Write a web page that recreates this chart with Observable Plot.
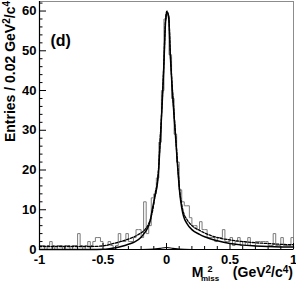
<!DOCTYPE html>
<html><head><meta charset="utf-8">
<script src="https://cdn.jsdelivr.net/npm/d3@7"></script>
<script src="https://cdn.jsdelivr.net/npm/@observablehq/plot@0.6"></script>
<style>html,body{margin:0;padding:0;background:#fff} svg{display:block}</style>
</head><body><div id="chart"></div>
<script>
// Histogram: 100 bins of 0.02 GeV^2/c^4 from -1 to 1
const binStart = -1;
const binWidth = 0.02;
const counts = [
  1,1,0,1,2,1,0,1,1,0,
  1,1,0,1,1,4,1,0,1,2,
  1,2,3,3,2,1,1,2,1,0,
  1,4,2,2,4,2,2,3,5,5,
  3,12,4,6,13,14,18,27,40,58,
  59,49,38,29,22,15,12,11,11,8,
  6,6,5,7,5,5,3,3,3,2,
  3,3,5,2,2,3,1,2,3,1,
  2,1,3,1,1,2,2,2,2,2,
  1,1,4,1,1,3,1,1,1,3
];
// Solid fit curve
const fitX = [-1,-0.6,-0.5,-0.45,-0.4,-0.35,-0.3,-0.25,-0.2,-0.17,-0.15,-0.13,-0.113,-0.09,-0.07,-0.06,-0.05,-0.035,-0.02,-0.008,0.003,0.018,0.03,0.05,0.07,0.085,0.105,0.12,0.135,0.16,0.2,0.26,0.3,0.4,0.5,0.6,0.7,0.8,0.9,1];
const fitY = [0,0,0.05,0.2,0.45,0.8,1.3,1.9,3.1,4.3,5.3,7,9.9,13.5,17,21,27,36,47,57,59.8,58,49,38,29,22,14,10.5,8.3,6.6,5.0,3.8,3.2,2.2,1.5,1.1,0.9,0.75,0.65,0.6];
// Dashed alternative curve
const altX = [-1,-0.6,-0.5,-0.43,-0.33,-0.22,-0.17,-0.14,-0.12,-0.1,-0.09,-0.07,-0.06,-0.05,-0.035,-0.02,-0.008,0.003,0.018,0.03,0.05,0.07,0.085,0.105,0.12,0.135,0.16,0.2,0.26,0.35,0.5,0.6,0.7,0.8,0.9,1];
const altY = [0.75,0.75,0.9,1.4,2.3,3.8,5.0,6.5,8.3,11.5,14,17.5,21.5,27.5,36.5,47.5,57.5,60,58.5,49.5,38.5,29.5,22.5,14.5,11.3,9.2,7.6,6.0,4.8,3.5,2.4,2.0,1.7,1.5,1.3,1.2];
// Small background component near zero
const bkgX = [-0.2,-0.1,-0.05,0,0.05,0.1,0.2];
const bkgY = [0,0.1,0.3,0.5,0.3,0.1,0];
// Axis ticks
const xMajor = [-1,-0.5,0,0.5,1];
const xTickLabels = ["-1","-0.5","0","0.5","1"];
const xMinor = [-0.9,-0.8,-0.7,-0.6,-0.4,-0.3,-0.2,-0.1,0.1,0.2,0.3,0.4,0.6,0.7,0.8,0.9];
const yMajor = [0,10,20,30,40,50,60];
const yMinor = [2,4,6,8,12,14,16,18,22,24,26,28,32,34,36,38,42,44,46,48,52,54,56,58,62];

const W = 296, H = 282, mL = 39, mR = 3, mT = 1, mB = 33;
const innerW = W - mL - mR, innerH = H - mT - mB;
const F = "Liberation Sans, Arial, Helvetica, sans-serif";

const histo = [{x: binStart, y: 0}]
  .concat(counts.map((c, i) => ({x: binStart + i * binWidth, y: c})))
  .concat([{x: binStart + counts.length * binWidth, y: counts[counts.length - 1]},
           {x: binStart + counts.length * binWidth, y: 0}]);
const fit = fitX.map((x, i) => ({x, y: fitY[i]}));
const alt = altX.map((x, i) => ({x, y: altY[i]}));
const bkg = bkgX.map((x, i) => ({x, y: bkgY[i]}));
const labelMap = new Map(xMajor.map((d, i) => [d, xTickLabels[i]]));

const svgEl = Plot.plot({
  width: W, height: H,
  marginLeft: mL, marginRight: mR, marginTop: mT, marginBottom: mB,
  style: {fontFamily: F, background: "white"},
  x: {domain: [-1, 1]},
  y: {domain: [0, 62.4]},
  marks: [
    Plot.frame({stroke: "#8c8c8c"}),
    Plot.line(histo, {x: "x", y: "y", curve: "step-after", stroke: "#7a7a7a", strokeWidth: 1}),
    Plot.line(bkg, {x: "x", y: "y", curve: "monotone-x", stroke: "black", strokeWidth: 1.2}),
    Plot.line(alt, {x: "x", y: "y", curve: "monotone-x", stroke: "black", strokeWidth: 1.3, strokeDasharray: "2.5,1.5"}),
    Plot.line(fit, {x: "x", y: "y", curve: "monotone-x", stroke: "black", strokeWidth: 1.5}),
    Plot.ruleY(yMajor, {stroke: "black", insetRight: innerW - 7}),
    Plot.ruleY(yMinor, {stroke: "black", insetRight: innerW - 3.5}),
    Plot.ruleX(xMajor, {stroke: "black", insetTop: innerH - 6}),
    Plot.ruleX(xMinor, {stroke: "black", insetTop: innerH - 3}),
    Plot.ruleX([-1], {stroke: "black", strokeWidth: 1.2}),
    Plot.ruleY([0], {stroke: "black"}),
    Plot.axisY(yMajor, {tickSize: 0, tickPadding: 3, label: null, fontSize: 13, fontWeight: "bold", fill: "black"}),
    Plot.axisX(xMajor, {tickSize: 0, tickPadding: 5, label: null, tickFormat: d => labelMap.get(d), fontSize: 13, fontWeight: "bold", fill: "black"}),
    Plot.text(["(d)"], {frameAnchor: "top-left", dx: 11, dy: 33, text: d => d, textAnchor: "start", fontSize: 16, fontWeight: "bold", fill: "black"})
  ]
});
document.getElementById("chart").appendChild(svgEl);

const svg = d3.select(svgEl);
// Y-axis title
const yl = svg.append("text")
  .attr("transform", "translate(15,1) rotate(-90)")
  .attr("text-anchor", "end")
  .attr("font-family", F).attr("font-weight", "bold").attr("font-size", 14).attr("fill", "black");
yl.append("tspan").text("Entries / 0.02 GeV");
yl.append("tspan").attr("font-size", 10).attr("dy", -5).text("2");
yl.append("tspan").attr("dy", 5).text("/c");
yl.append("tspan").attr("font-size", 10).attr("dy", -5).text("4");

// X-axis title
const g = svg.append("g").attr("font-family", F).attr("font-weight", "bold").attr("fill", "black");
g.append("text").attr("x", 197.5).attr("y", 277).attr("font-size", 14).text("M");
g.append("text").attr("x", 210).attr("y", 272).attr("font-size", 9).text("2");
g.append("text").attr("x", 210).attr("y", 281).attr("font-size", 8).text("miss");
const xt = g.append("text").attr("x", 293).attr("y", 277).attr("text-anchor", "end").attr("font-size", 14);
xt.append("tspan").text("(GeV");
xt.append("tspan").attr("font-size", 10).attr("dy", -4.5).text("2");
xt.append("tspan").attr("dy", 4.5).text("/c");
xt.append("tspan").attr("font-size", 10).attr("dy", -4.5).text("4");
xt.append("tspan").attr("dy", 4.5).text(")");
</script>
</body></html>
